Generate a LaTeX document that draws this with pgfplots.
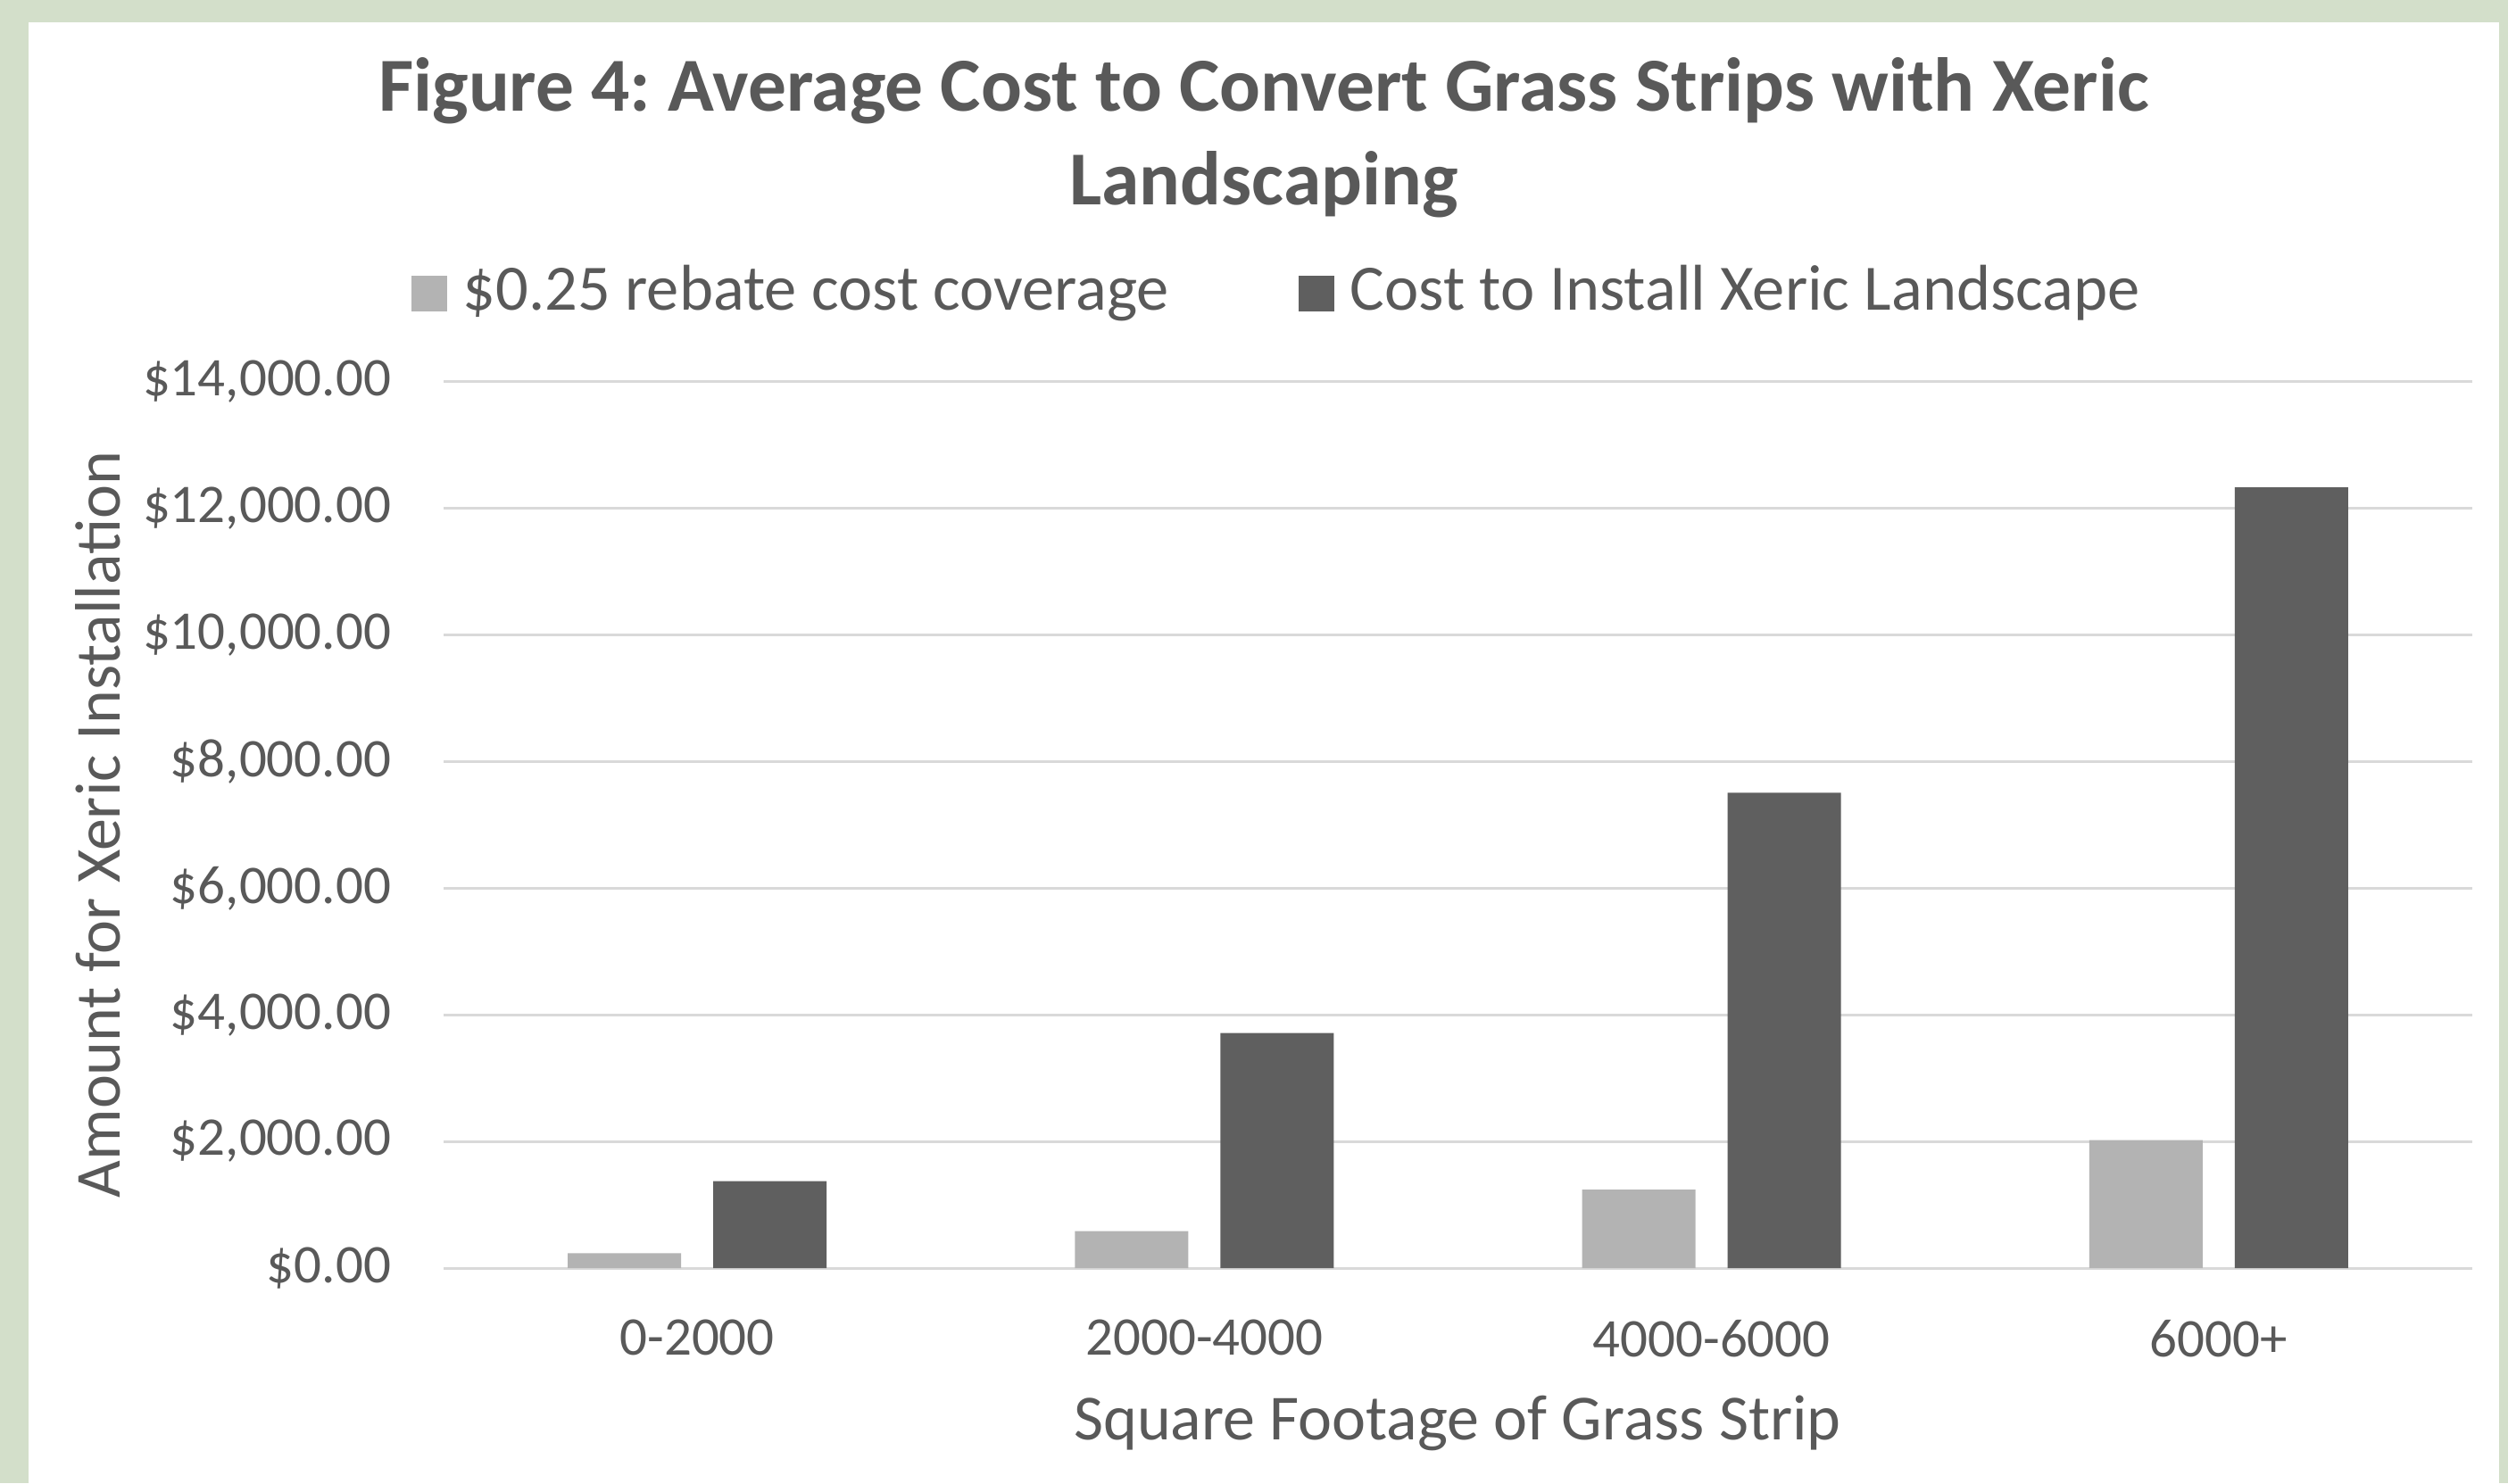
\documentclass[border=0pt]{standalone}
\usepackage{fontspec}
\setmainfont{Carlito}
\usepackage{pgfplots}
\pgfplotsset{compat=1.18}
\definecolor{txt}{HTML}{595959}
\definecolor{lightbar}{HTML}{B3B3B3}
\definecolor{darkbar}{HTML}{5F5F5F}
\definecolor{gridc}{HTML}{D9D9D9}
\definecolor{framec}{HTML}{D3DFCA}
\frenchspacing
\begin{document}
\begin{tikzpicture}
\path[use as bounding box, fill=framec] (0pt,0pt) rectangle (562pt,332.4pt);
\fill[white] (6.4pt,0pt) rectangle (560pt,327.4pt);
\begin{axis}[
  at={(99.4pt,48.2pt)}, anchor=south west,
  scale only axis, width=454.6pt, height=198.66pt,
  xmin=-0.5, xmax=3.5, ymin=0, ymax=14000,
  scaled y ticks=false,
  axis line style={draw=none},
  tick style={draw=none},
  major tick length=0pt,
  ymajorgrids, grid style={gridc, line width=0.6pt},
  xtick={0,1,2,3},
  xticklabels={0-2000,2000-4000,4000-6000,6000+},
  ytick={0,2000,4000,6000,8000,10000,12000,14000},
  yticklabels={\$0.00,{\$2,000.00},{\$4,000.00},{\$6,000.00},{\$8,000.00},{\$10,000.00},{\$12,000.00},{\$14,000.00}},
  tick label style={font=\fontsize{12.2}{14}\selectfont, text=txt},
  yticklabel style={anchor=east, inner sep=0pt, xshift=-11.6pt},
  xticklabel style={anchor=north, inner sep=0pt, yshift=-11.4pt},
  ybar, bar width=25.4pt,
  legend columns=2,
  legend style={at={(axis description cs:-0.0163,1.1028)}, anchor=west, draw=none, fill=none,
    font=\fontsize{14.5}{16}\selectfont, text=txt, inner sep=0pt,
    /tikz/every odd column/.append style={column sep=1.6pt},
    /tikz/every even column/.append style={column sep=27pt}},
]
\addplot[ybar, bar shift=-16.3pt, fill=lightbar, draw=none,
  legend image code/.code={\fill[lightbar] (0pt,-4.7pt) rectangle (8pt,3.3pt);}]
  coordinates {(0,235) (1,585) (2,1240) (3,2020)};
\addplot[ybar, bar shift=16.3pt, fill=darkbar, draw=none,
  legend image code/.code={\fill[darkbar] (0pt,-4.7pt) rectangle (8pt,3.3pt);}]
  coordinates {(0,1372) (1,3711) (2,7507) (3,12330)};
\legend{\$0.25 rebate cost coverage, Cost to Install Xeric Landscape}
\end{axis}
\node[anchor=base, align=center, text=txt, font=\bfseries\fontsize{17.1}{21}\selectfont]
  at (283.2pt,286.4pt) {Figure 4: Average Cost to Convert Grass Strips with Xeric\\Landscaping};
\node[anchor=base, text=txt, font=\fontsize{14.4}{16}\selectfont] at (326.6pt,9.8pt) {Square Footage of Grass Strip};
\node[anchor=base, rotate=90, text=txt, font=\fontsize{14.4}{16}\selectfont] at (27pt,147.6pt) {Amount for Xeric Installation};
\end{tikzpicture}
\end{document}
